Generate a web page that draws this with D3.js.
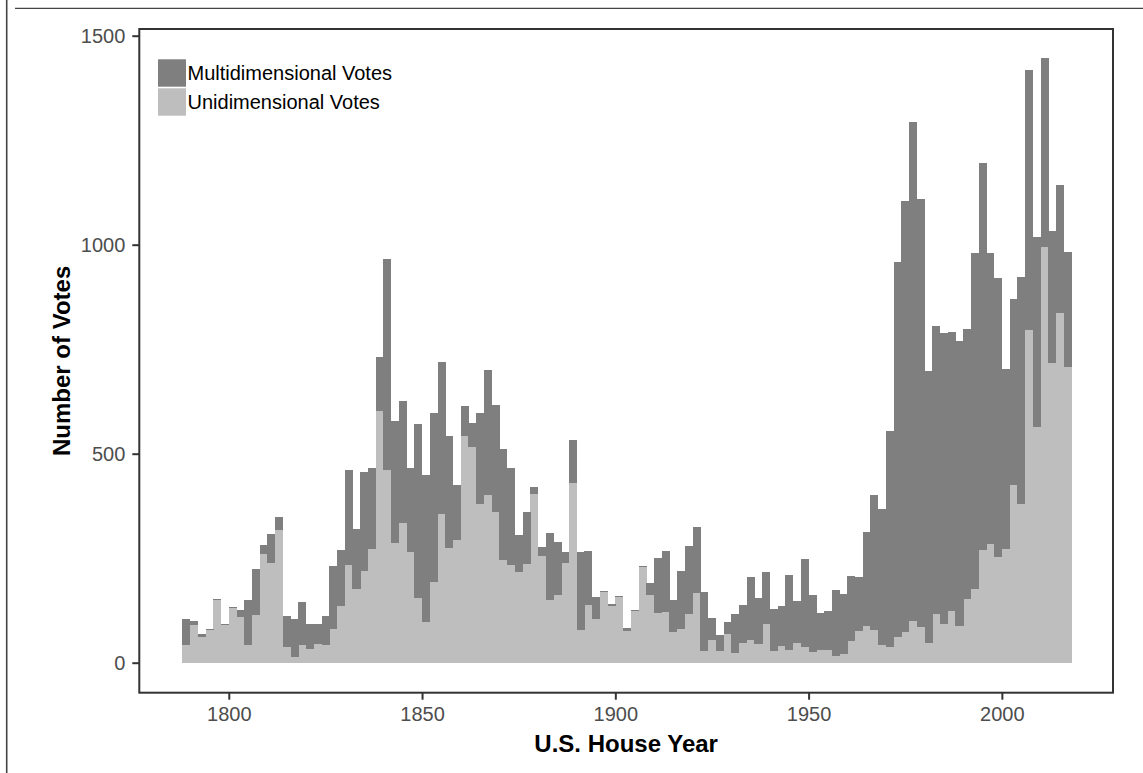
<!DOCTYPE html>
<html>
<head>
<meta charset="utf-8">
<script src="https://cdn.jsdelivr.net/npm/d3@7"></script>
<style>
  html, body { margin: 0; padding: 0; background: #fff; }
  svg { display: block; font-family: "Liberation Sans", Arial, Helvetica, sans-serif; }
</style>
</head>
<body>
<div id="chart"></div>
<script>
// congress start years (one bar per House)
const years = [
  1789, 1791, 1793, 1795, 1797, 1799, 1801, 1803, 1805, 1807, 1809, 1811, 1813, 1815, 1817, 1819,
  1821, 1823, 1825, 1827, 1829, 1831, 1833, 1835, 1837, 1839, 1841, 1843, 1845, 1847, 1849, 1851,
  1853, 1855, 1857, 1859, 1861, 1863, 1865, 1867, 1869, 1871, 1873, 1875, 1877, 1879, 1881, 1883,
  1885, 1887, 1889, 1891, 1893, 1895, 1897, 1899, 1901, 1903, 1905, 1907, 1909, 1911, 1913, 1915,
  1917, 1919, 1921, 1923, 1925, 1927, 1929, 1931, 1933, 1935, 1937, 1939, 1941, 1943, 1945, 1947,
  1949, 1951, 1953, 1955, 1957, 1959, 1961, 1963, 1965, 1967, 1969, 1971, 1973, 1975, 1977, 1979,
  1981, 1983, 1985, 1987, 1989, 1991, 1993, 1995, 1997, 1999, 2001, 2003, 2005, 2007, 2009, 2011,
  2013, 2015, 2017
];

const unidimensional = [
   43,  90,  62,  78, 151,  90, 131, 110,  43, 114, 260, 239, 318,  38,  14,  43,
   33,  45,  42,  80, 136, 234, 176, 219, 272, 603, 461, 286, 334, 265, 155,  97,
  193, 356, 274, 293, 542, 516, 380, 401, 360, 246, 234, 217, 236, 403, 255, 150,
  162, 238, 430,  78, 138, 104, 169, 136, 157,  76, 124, 229, 162, 119, 121,  73,
   80, 116, 167,  28,  54,  28,  69,  23,  47,  54,  45,  92,  28,  40,  30,  47,
   37,  25,  30,  30,  16,  21,  52,  76,  87,  78,  43,  37,  61,  73,  99,  85,
   47, 116,  92, 124,  87, 152, 176, 269, 284, 254, 272, 425, 379, 796, 563, 994,
  717, 836, 708
];

const multidimensional = [
   61,  10,   7,   2,   2,   2,   3,  16, 107, 110,  21,  70,  30,  74,  90, 102,
   59,  47,  70, 151, 133, 227, 144, 237, 194, 129, 505, 292, 292, 201, 416, 352,
  404, 363, 268, 132,  72,  57, 217, 299, 256, 265, 232,  88, 124,  17,  22, 160,
  127,  27, 103, 187, 129,  53,   2,   4,   2,   7,   2,   2,  29, 131, 146,  77,
  139, 163, 158, 141,  53,  38,  28,  93,  91, 151, 110, 125, 100,  96, 180, 101,
  211, 137,  89,  94, 158, 143, 155, 129, 225, 323, 324, 517, 897, 1031, 1195, 1024,
  652, 689, 697, 667, 682, 646, 804, 926, 696, 666, 430, 445, 543, 622, 455, 453,
  316, 307, 274
];

const seriesNames = ['Multidimensional Votes', 'Unidimensional Votes'];
const seriesColors = ['#7f7f7f', '#bebebe'];
const xTicks = [1800, 1850, 1900, 1950, 2000];
const yTicks = [0, 500, 1000, 1500];

const W = 1143, H = 773;
const panel = {left: 139.3, top: 29, right: 1113, bottom: 692.7};

const svg = d3.select('#chart').append('svg')
    .attr('width', W)
    .attr('height', H);

// stray frame lines along the image edge
svg.append('line')
    .attr('x1', 6.7).attr('x2', 6.7).attr('y1', 0).attr('y2', H)
    .attr('stroke', '#444').attr('stroke-width', 1.6);
svg.append('line')
    .attr('x1', 15).attr('x2', W).attr('y1', 8.3).attr('y2', 8.3)
    .attr('stroke', '#444').attr('stroke-width', 1.3);

const x = d3.scaleLinear().domain([1776.85, 2028.75]).range([panel.left, panel.right]);
const y = d3.scaleLinear().domain([0, 1500]).range([662.7, 35.7]);

const data = years.map((yr, i) => ({year: yr, uni: unidimensional[i], multi: multidimensional[i]}));

const stack = d3.stack().keys(['uni', 'multi']);
const stacked = stack(data);
const colorByKey = {uni: seriesColors[1], multi: seriesColors[0]};

const bars = svg.append('g');
bars.selectAll('g.layer')
    .data(stacked)
    .enter()
    .append('g')
    .attr('class', 'layer')
    .attr('fill', d => colorByKey[d.key])
    .selectAll('rect')
    .data(d => d)
    .enter()
    .append('rect')
    .attr('x', d => x(d.data.year - 1))
    .attr('width', d => x(d.data.year + 1) - x(d.data.year - 1) + 0.3)
    .attr('y', d => y(d[1]))
    .attr('height', d => Math.max(0, y(d[0]) - y(d[1])))
    .attr('shape-rendering', 'crispEdges');

// panel border
svg.append('rect')
    .attr('x', panel.left).attr('y', panel.top)
    .attr('width', panel.right - panel.left)
    .attr('height', panel.bottom - panel.top)
    .attr('fill', 'none')
    .attr('stroke', '#333')
    .attr('stroke-width', 2);

const styleAxis = g => {
  g.select('.domain').remove();
  g.selectAll('.tick line').attr('stroke', '#333').attr('stroke-width', 2);
  g.selectAll('.tick text')
      .attr('fill', '#4d4d4d')
      .style('font-size', '20px')
      .style('font-family', '"Liberation Sans", Arial, sans-serif');
};

svg.append('g')
    .attr('transform', 'translate(0,' + panel.bottom + ')')
    .call(d3.axisBottom(x).tickValues(xTicks).tickFormat(d3.format('d')).tickSize(7).tickPadding(7))
    .call(styleAxis);

svg.append('g')
    .attr('transform', 'translate(' + panel.left + ',0)')
    .call(d3.axisLeft(y).tickValues(yTicks).tickFormat(d3.format('d')).tickSize(7).tickPadding(7))
    .call(styleAxis);

// axis titles
svg.append('text')
    .attr('x', (panel.left + panel.right) / 2)
    .attr('y', 751.5)
    .attr('text-anchor', 'middle')
    .style('font-size', '24px')
    .style('font-weight', 'bold')
    .text('U.S. House Year');

svg.append('text')
    .attr('transform', 'translate(70,' + ((panel.top + panel.bottom) / 2) + ') rotate(-90)')
    .attr('text-anchor', 'middle')
    .style('font-size', '24px')
    .style('font-weight', 'bold')
    .text('Number of Votes');

// legend
const legend = svg.append('g').attr('transform', 'translate(158,59.3)');
const items = legend.selectAll('g')
    .data(seriesNames)
    .enter()
    .append('g')
    .attr('transform', (d, i) => 'translate(0,' + (i * 29) + ')');
items.append('rect')
    .attr('width', 28).attr('height', 27.4)
    .attr('fill', (d, i) => seriesColors[i]);
items.append('text')
    .attr('x', 29.5)
    .attr('y', 13.7)
    .attr('dy', '0.36em')
    .style('font-size', '20px')
    .attr('fill', '#000')
    .text(d => d);
</script>
</body>
</html>
